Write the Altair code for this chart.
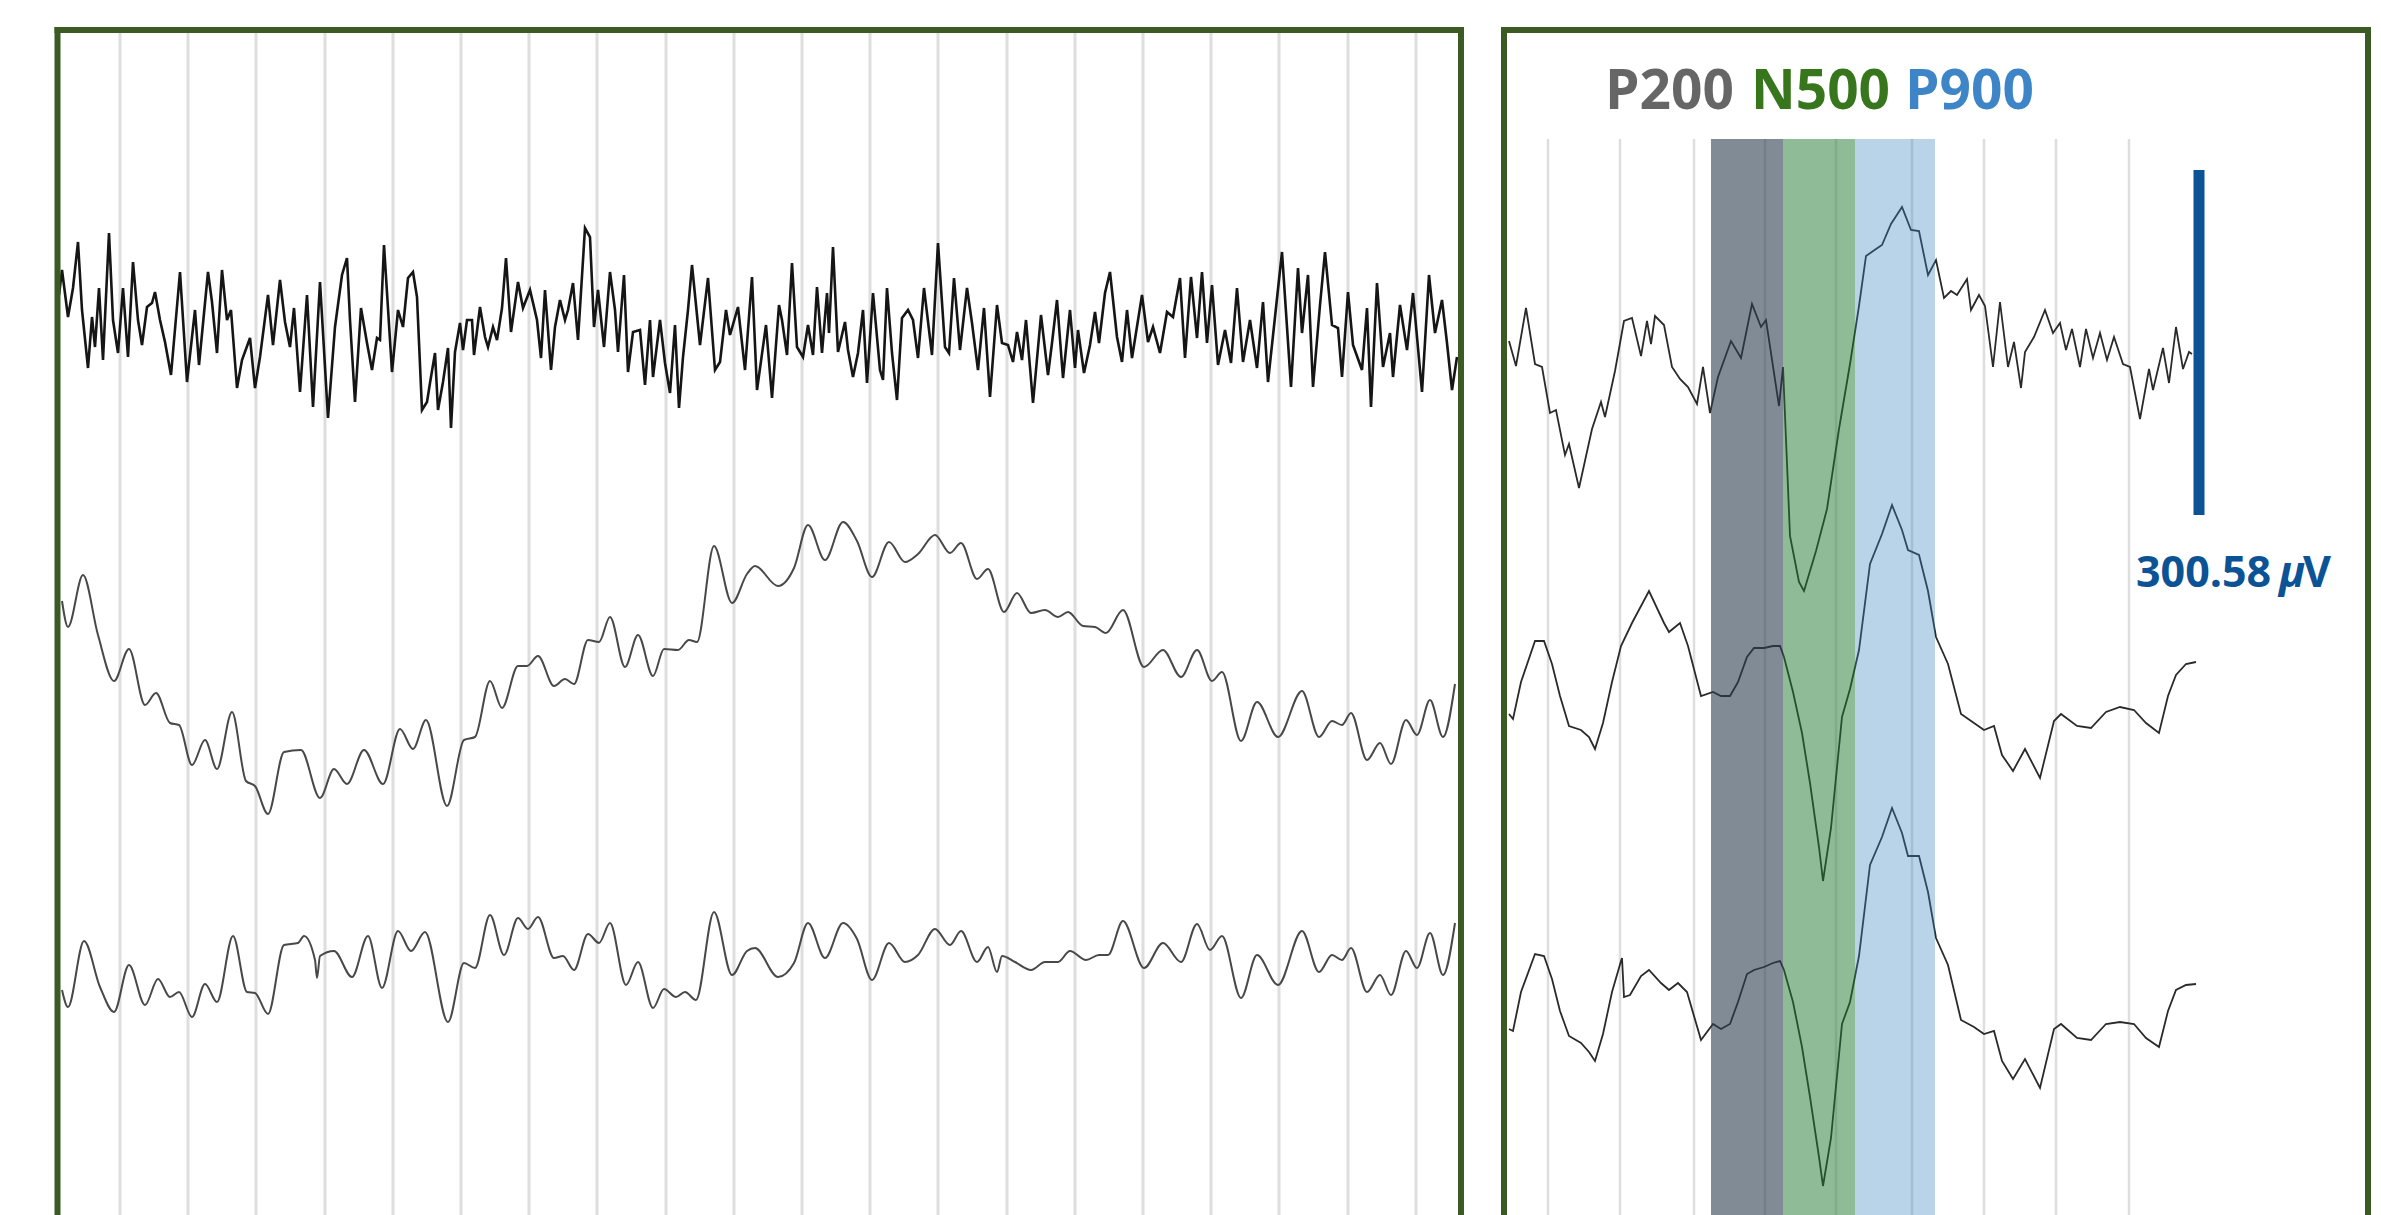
import altair as alt
import pandas as pd

# ---------------- values ----------------
# Left panel: continuous EEG, 3 channels. (sample, amplitude) pairs, negative = up
left_ch1 = [(2,-35),(5,-60),(11,-13),(16,-42),(21,-88),(25,-20),(31,38),(35,-13),(38,17),(42,-42),(46,30),(52,-97),(56,-10),(61,23),(66,-42),(71,27),(76,-68),(81,-10),(85,15),(90,-23),(95,-27),(98,-38),(103,-10),(108,12),(114,45),(123,-58),(130,52),(138,-20),(142,35),(151,-58),(155,-28),(160,23),(165,-60),(170,-10),(174,-20),(180,58),(185,30),(193,8),(198,58),(203,27),(211,-35),(216,15),(223,-50),(228,-8),(233,17),(237,-22),(243,62),(250,-35),(256,77),(263,-48),(271,88),(278,-3),(285,-55),(290,-72),(293,-10),(298,72),(304,-22),(310,13),(315,40),(320,8),(323,10),(327,-85),(335,42),(341,-20),(346,-3),(351,-52),
            (356,-58),(360,-33),(365,80),(370,72),(373,53),(378,23),(381,80),(386,52),(391,18),(394,98),(398,22),(403,-7),(406,20),(410,-10),(415,-10),(417,25),(423,-23),(428,7),(431,17),(436,-3),(440,10),(445,-22),(449,-72),(454,2),(461,-48),(466,-22),(473,-40),(480,-10),(484,28),(488,-40),(494,40),(498,-3),(503,-30),(508,-10),(511,-20),(516,-47),(521,10),(528,-102),(533,-93),(537,-3),(541,-40),(547,17),(553,-58),(558,-20),(561,22),(567,-55),(571,42),(576,2),(583,0),(588,55),(593,-10),(596,47),(603,-10),(608,33),(613,63),(618,-5),(622,78),(626,27),(631,-20),(635,-65),(643,15),(651,-52),(658,40),(663,32),(669,-20),(673,5),(681,-23),(688,40),(695,-53),(700,60),
            (709,-5),(715,68),(722,-25),(725,-10),(730,25),(735,-67),(740,17),(746,27),(751,-5),(756,25),(760,-43),(765,23),(770,-37),(772,3),(776,-83),(781,22),(788,-8),(791,20),(796,47),(801,23),(806,-20),(810,53),(816,-37),(823,40),(826,50),(830,-42),(835,23),(840,70),(845,-12),(851,-20),(856,-10),(861,28),(867,-42),(875,25),(881,-87),(888,17),(892,23),(897,-52),(903,20),(910,-42),(915,-7),(921,40),(927,-22),(933,67),(940,-25),(945,13),(951,15),(956,32),(960,2),(965,30),(969,-10),(976,73),(984,-15),(991,45),(995,13),(1000,-30),(1006,48),(1013,-20),(1018,38),(1021,0),(1027,43),(1033,15),(1038,-18),(1042,13),(1048,-37),(1053,-58),
            (1060,7),(1065,32),(1070,-20),(1075,28),(1085,-35),(1091,12),(1096,-3),(1103,23),(1110,-18),(1116,-13),(1123,-52),(1128,28),(1134,-53),(1140,8),(1145,-58),(1150,13),(1155,-45),(1161,35),(1168,0),(1174,33),(1180,-42),(1186,32),(1193,-10),(1200,38),(1206,-28),(1211,52),(1218,-13),(1225,-78),(1234,57),(1241,-62),(1245,3),(1251,-55),(1256,57),(1263,-25),(1268,-78),(1275,-5),(1281,-2),(1285,47),(1291,-38),(1296,15),(1305,40),(1310,-22),(1314,77),(1320,-47),(1326,37),(1333,3),(1336,47),(1343,-25),(1350,20),(1356,-37),(1360,7),(1365,62),(1372,-55),(1378,3),(1385,-30),(1390,13),(1395,60),(1400,27)]

left_ch2 = [(5,-79),(11,-53),(26,-105),(41,-45),(57,1),(72,-31),(88,25),(99,13),(113,43),(122,45),(135,85),(148,60),(160,89),(175,32),(189,101),(198,106),(211,134),(227,72),(244,70),(263,118),(277,89),(290,104),(307,70),(326,104),(343,49),(356,69),(369,40),(390,126),(407,60),(418,57),(433,1),(445,28),(461,-14),(470,-14),(481,-24),(497,6),(508,-1),(517,4),(531,-40),(542,-38),(553,-63),(568,-13),(581,-45),(596,-4),(607,-31),(621,-30),(632,-40),(640,-38),(657,-134),(675,-77),(690,-106),(698,-114),(721,-94),(737,-112),(751,-155),(768,-120),(786,-158),(800,-139),(815,-103),(832,-138),(848,-118),(861,-126),(878,-145),(893,-127),(904,-137),(920,-101),(931,-111),(947,-68),(960,-87),(974,-67),(988,-70),(1001,-63),(1011,-68),(1026,-54),(1038,-53),(1049,-47),(1066,-70),(1087,-13),(1106,-30),(1124,-3),(1140,-30),(1155,1),(1165,-8),(1184,61),(1200,22),(1221,57),(1245,11),(1262,57),(1275,41),(1285,45),(1294,33),(1310,80),(1323,63),(1334,84),(1349,40),(1360,55),(1373,20),(1386,57),(1398,4)]

left_ch3 = [(5,30),(11,47),(27,-19),(43,27),(57,52),(72,5),(88,45),(101,19),(113,37),(122,32),(135,57),(148,24),(160,42),(176,-24),(190,32),(198,33),(211,54),(227,-15),(241,-17),(247,-24),(258,0),(260,18),(263,-4),(277,-9),(295,17),(311,-24),(325,28),(341,-29),(354,-9),(368,-28),(391,62),(407,3),(418,8),(433,-45),(447,-5),(461,-42),(471,-31),(481,-43),(497,-2),(506,-4),(517,10),(531,-26),(542,-17),(553,-37),(569,25),(581,2),(596,48),(607,29),(619,37),(628,32),(639,40),(657,-48),(675,15),(690,-9),(698,-12),(721,17),(737,3),(751,-37),(768,-2),(786,-37),(800,-21),(815,20),(832,-17),(848,2),(861,-5),(878,-31),(893,-15),(904,-29),(920,2),(931,-13),(940,12),(945,-4),(958,2),(974,10),(988,2),(1001,2),(1013,-9),(1029,0),(1042,-5),(1051,-5),(1066,-39),(1087,8),(1106,-17),(1124,2),(1140,-36),(1153,-10),(1165,-24),(1184,38),(1200,-5),(1221,25),(1245,-29),(1262,12),(1275,-5),(1285,0),(1294,-12),(1310,32),(1323,15),(1334,35),(1349,-9),(1360,8),(1373,-27),(1386,15),(1398,-37)]

# Right panel: averaged ERP, 3 channels
right_ch1 = [(5,-19),(12,6),(22,-52),(31,4),(38,7),(46,53),(52,50),(61,95),(65,84),(75,128),(88,69),(97,42),(101,57),(111,11),(120,-39),(128,-42),(137,-4),(143,-39),(147,-16),(151,-44),(160,-35),(168,7),(176,19),(184,27),(193,44),(199,7),(206,53),(214,17),(227,-19),(237,-2),(248,-56),(257,-33),(262,-40),(275,46),(279,7),(286,176),(295,222),(300,231),(312,191),(323,149),(335,69),(346,4),(355,-54),(362,-104),(372,-111),(378,-115),(387,-136),(398,-153),(407,-130),(415,-129),(424,-85),(432,-100),(440,-62),(447,-69),(453,-65),(463,-81),(467,-50),(475,-65),(481,-54),(489,7),(496,-58),(504,7),(510,-18),(517,28),(521,-8),(530,-23),(541,-50),(549,-27),(556,-37),(562,-10),(568,-31),(576,7),(582,-31),(589,-2),(596,-27),(603,0),(610,-23),(619,4),(626,7),(636,59),(645,9),(649,30),(659,-12),(665,23),(672,-33),(679,9),(685,-8),(688,-6)]

right_ch2 = [(5,34),(9,39),(17,2),(31,-39),(40,-39),(48,-16),(56,16),(65,46),(77,50),(85,57),(91,69),(99,43),(108,2),(117,-34),(128,-57),(145,-89),(160,-57),(165,-48),(176,-57),(184,-34),(197,16),(209,12),(217,16),(226,16),(234,2),(243,-23),(250,-32),(260,-32),(269,-34),(276,-34),(280,-23),(289,12),(298,53),(306,103),(315,167),(319,201),(327,148),(338,37),(346,9),(355,-30),(366,-116),(378,-146),(388,-175),(398,-150),(404,-130),(415,-125),(424,-89),(432,-43),(444,-16),(457,34),(470,43),(480,50),(490,46),(498,75),(509,91),(521,69),(536,98),(550,41),(557,34),(573,46),(587,48),(602,32),(616,27),(630,30),(642,43),(655,53),(664,16),(672,-5),(682,-16),(692,-18)]

right_ch3 = [(5,29),(9,31),(17,-8),(31,-46),(40,-44),(48,-21),(56,11),(65,36),(77,43),(85,52),(91,61),(99,34),(108,-8),(117,-39),(118,-42),(120,-3),(126,-5),(137,-24),(145,-30),(157,-17),(165,-10),(174,-17),(183,-8),(197,40),(209,24),(217,29),(226,24),(234,2),(243,-26),(250,-30),(260,-33),(269,-37),(276,-39),(280,-30),(289,2),(298,47),(306,97),(315,157),(319,186),(327,138),(338,24),(346,2),(355,-44),(366,-135),(378,-163),(388,-192),(398,-167),(404,-144),(415,-144),(424,-108),(432,-62),(444,-35),(457,20),(470,27),(480,34),(490,31),(498,61),(509,79),(521,59),(536,88),(550,29),(557,24),(573,38),(587,40),(602,24),(616,22),(630,24),(642,38),(655,47),(664,11),(672,-10),(682,-15),(692,-16)]

grid_left = [63, 131, 199, 268, 336, 404, 472, 540, 609, 677, 745, 813, 881, 950, 1018, 1086, 1154, 1222, 1291, 1359]
grid_right = [44, 116, 190, 261, 332, 408, 480, 552, 625]

band_names = ["P200", "N500", "P900"]
band_start = [207, 279, 351]
band_end = [279, 351, 431]
scale_label = "300.58"

# ---------------- layout / style ----------------
W, H = 2365, 1207
LEFT_ROWS = {"c1": 322, "c2": 672, "c3": 952}
RIGHT_ROWS = {"c1": 352, "c2": 672, "c3": 992}
FRAME = "#3b5a24"
GRID = "#dedede"
BAND_COLORS = {"P200": ("#2b3e4e", 0.6), "N500": ("#1f792d", 0.5), "P900": ("#3683bd", 0.35)}
LABEL_COLORS = {"P200": "#666666", "N500": "#38761d", "P900": "#3d85c6"}
LABEL_X = {"P200": 1597, "N500": 1743, "P900": 1897}
BAR = "#0b5394"


def frame(series, rows):
    recs = []
    for ch, pts in series.items():
        for s, v in pts:
            recs.append({"ch": ch, "s": s, "v": v, "pos": rows[ch] + v})
    return pd.DataFrame(recs)


xl = alt.Scale(domain=[0, 1404], range=[49, 1453], nice=False, zero=False)
xr = alt.Scale(domain=[0, 864], range=[1496, 2360], nice=False, zero=False)
ys = alt.Scale(domain=[0, H], range=[0, H], nice=False, zero=False)

one = pd.DataFrame({"k": [0]})

layers = []

# gridlines
layers.append(
    alt.Chart(pd.DataFrame({"s": grid_left})).mark_rule(color=GRID, strokeWidth=3).encode(
        x=alt.X("s:Q", scale=xl, axis=None), y=alt.value(25), y2=alt.value(H))
)
layers.append(
    alt.Chart(pd.DataFrame({"s": grid_right})).mark_rule(color=GRID, strokeWidth=2.5).encode(
        x=alt.X("s:Q", scale=xr, axis=None), y=alt.value(131), y2=alt.value(H))
)

# left traces
df_l1 = frame({"c1": left_ch1}, LEFT_ROWS)
df_l23 = frame({"c2": left_ch2, "c3": left_ch3}, LEFT_ROWS)
layers.append(
    alt.Chart(df_l1).mark_line(color="#151515", strokeWidth=2.6).encode(
        x=alt.X("s:Q", scale=xl, axis=None), y=alt.Y("pos:Q", scale=ys, axis=None))
)
layers.append(
    alt.Chart(df_l23).mark_line(color="#484848", strokeWidth=2, interpolate="monotone").encode(
        x=alt.X("s:Q", scale=xl, axis=None), y=alt.Y("pos:Q", scale=ys, axis=None), detail="ch:N")
)

# right traces
df_r = frame({"c1": right_ch1, "c2": right_ch2, "c3": right_ch3}, RIGHT_ROWS)
layers.append(
    alt.Chart(df_r).mark_line(color="#2a2a2a", strokeWidth=1.8).encode(
        x=alt.X("s:Q", scale=xr, axis=None), y=alt.Y("pos:Q", scale=ys, axis=None), detail="ch:N")
)

# component windows (translucent, on top)
for name, a, b in zip(band_names, band_start, band_end):
    col, op = BAND_COLORS[name]
    layers.append(
        alt.Chart(pd.DataFrame({"band": [name], "start": [a], "end": [b]})).mark_rect(
            color=col, opacity=op).encode(
            x=alt.X("start:Q", scale=xr, axis=None), x2="end:Q",
            y=alt.value(131), y2=alt.value(H))
    )

# component labels
for name in band_names:
    layers.append(
        alt.Chart(one).mark_text(font="Open Sans", fontWeight="bold", fontSize=55,
                                 align="left", baseline="alphabetic",
                                 color=LABEL_COLORS[name]).encode(
            x=alt.value(LABEL_X[name]), y=alt.value(101), text=alt.value(name))
    )

# amplitude scale bar
layers.append(
    alt.Chart(one).mark_rule(color=BAR, strokeWidth=11).encode(
        x=alt.value(2191), y=alt.value(162), y2=alt.value(507))
)
layers.append(
    alt.Chart(one).mark_text(font="Open Sans", fontWeight="bold", fontSize=43, align="left",
                             baseline="alphabetic", color=BAR).encode(
        x=alt.value(2128), y=alt.value(579), text=alt.value(scale_label))
)
layers.append(
    alt.Chart(one).mark_text(font="Open Sans", fontWeight="bold", fontStyle="italic", fontSize=43,
                             align="left", baseline="alphabetic", color=BAR).encode(
        x=alt.value(2271), y=alt.value(579), text=alt.value("μ"))
)
layers.append(
    alt.Chart(one).mark_text(font="Open Sans", fontWeight="bold", fontSize=43, align="left",
                             baseline="alphabetic", color=BAR).encode(
        x=alt.value(2295), y=alt.value(579), text=alt.value("V"))
)

# panel frames (open at the bottom)
for x0, x1 in [(49.5, 1453), (1496, 2360)]:
    layers.append(alt.Chart(one).mark_rule(color=FRAME, strokeWidth=6, strokeCap="square").encode(
        x=alt.value(x0), x2=alt.value(x1), y=alt.value(22)))
    layers.append(alt.Chart(one).mark_rule(color=FRAME, strokeWidth=6, strokeCap="square").encode(
        x=alt.value(x0), y=alt.value(22), y2=alt.value(H + 10)))
    layers.append(alt.Chart(one).mark_rule(color=FRAME, strokeWidth=6, strokeCap="square").encode(
        x=alt.value(x1), y=alt.value(22), y2=alt.value(H + 10)))

chart = alt.layer(*layers).resolve_scale(x="independent").properties(
    width=W, height=H, padding=0, background="white",
    autosize=alt.AutoSizeParams(type="none"),
).configure_view(strokeWidth=0)

chart.save("out.html", embed_options={"renderer": "svg", "actions": False})
